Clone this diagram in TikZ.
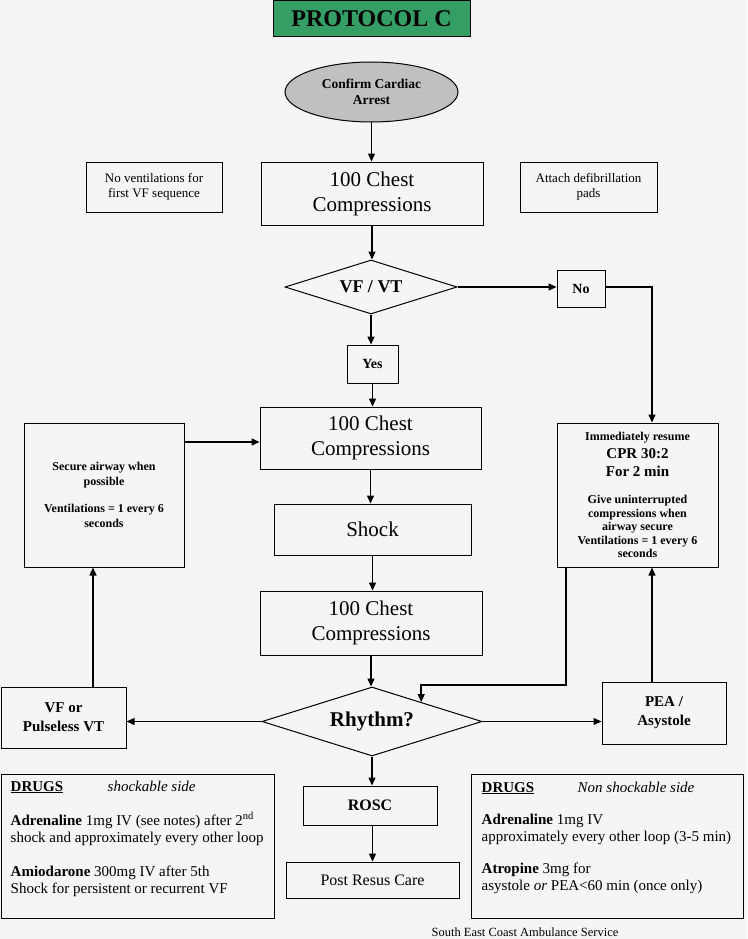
\documentclass[tikz,border=0pt]{standalone}
\usepackage{fontspec}
\setmainfont{Liberation Serif}
\usetikzlibrary{shapes.geometric,arrows.meta,calc}
\definecolor{paper}{RGB}{245,245,245}
\definecolor{titlegreen}{RGB}{52,158,100}
\definecolor{startgray}{RGB}{192,192,192}
\newcommand{\fsz}[2]{\fontsize{#1}{#2}\selectfont}

\begin{document}
\begin{tikzpicture}[x=1pt,y=-1pt,
    box/.style ={rectangle, draw, line width=1pt, inner sep=2pt, align=center},
    decision/.style ={diamond, draw, line width=1pt, inner sep=0pt, aspect=3.2},
    flow/.style ={line width=1.4pt, -{Triangle[length=8pt,width=7pt]}},
    bigtext/.style ={font=\fsz{21}{25}},
    smalltext/.style ={font=\fsz{13}{15}},
    drugtext/.style ={font=\fsz{15}{17}, align=left, inner sep=0pt, anchor=north west}]
   \fill[paper] (0,0) rectangle (747,939);
   % top of the chart
   \node[box, fill=titlegreen, minimum width=197, minimum height=36, font=\fsz{24}{28}\bfseries] (title) at (371.5,19) {PROTOCOL C};
   \node[ellipse, draw, fill=startgray, line width=1pt, minimum width=173, minimum height=60, align=center, font=\fsz{13.5}{16}\bfseries] (confirm) at (371.5,92) {Confirm Cardiac\\Arrest};
   \node[box, bigtext, minimum width=222, minimum height=63] (chest1) at (372,193.5) {100 Chest\\Compressions};
   \node[box, smalltext, minimum width=136, minimum height=50] (noventil) at (154,187) {No ventilations for\\first VF sequence};
   \node[box, smalltext, minimum width=137, minimum height=50] (pads) at (588.5,187) {Attach defibrillation\\pads};
   \node[decision, minimum width=172, minimum height=54, font=\fsz{18}{20}\bfseries] (vfvt) at (371,287) {VF / VT};
   \node[box, minimum width=48, minimum height=37, font=\fsz{14}{16}\bfseries] (no) at (581,289) {No};
   \node[box, minimum width=51, minimum height=38, font=\fsz{14}{16}\bfseries] (yes) at (372.5,364) {Yes};
   % shock loop
   \node[box, bigtext, minimum width=221, minimum height=62] (chest2) at (370.5,438) {100 Chest\\Compressions};
   \node[box, bigtext, minimum width=197, minimum height=51] (shock) at (372.5,529.5) {Shock};
   \node[box, bigtext, minimum width=222, minimum height=64] (chest3) at (371,623) {100 Chest\\Compressions};
   \node[box, minimum width=160, minimum height=144, font=\fsz{12}{15}\bfseries] (airway) at (104,495) {Secure airway when\\possible\\[12pt]Ventilations = 1 every 6\\seconds};
   \node[box, minimum width=161, minimum height=144, font=\fsz{12}{13.5}\bfseries] (resume) at (637.5,495) {Immediately resume\\[5pt]{\fsz{15}{17}CPR 30:2}\\[4pt]{\fsz{15}{17}For 2 min}\\[14pt]Give uninterrupted\\compressions when\\airway secure\\Ventilations = 1 every 6\\seconds};
   \node[decision, minimum width=220, minimum height=69, font=\fsz{21}{24}\bfseries] (rhythm) at (372,721.5) {Rhythm?};
   \node[box, minimum width=125, minimum height=61, font=\fsz{15}{19}\bfseries] (vfbox) at (63.5,717.5) {VF or\\Pulseless VT};
   \node[box, minimum width=124, minimum height=62, font=\fsz{15}{19}\bfseries] (pea) at (664,713) {PEA /\\Asystole};
   % bottom of the chart
   \node[box, minimum width=134, minimum height=39, font=\fsz{16}{18}\bfseries] (rosc) at (370,805.5) {ROSC};
   \node[box, minimum width=173, minimum height=36, font=\fsz{16}{18}] (post) at (372.5,880) {Post Resus Care};
   \node[box, minimum width=273, minimum height=144] (shockdrugs) at (137.5,846) {};
   \node[box, minimum width=272, minimum height=144] (nonshockdrugs) at (607,846) {};
   \node[drugtext] (shocklist) at ($(shockdrugs.north west)+(10,7)$) {\makebox[97pt][l]{\underline{\textbf{DRUGS}}}\textit{shockable side}\\[17pt]\textbf{Adrenaline} 1mg IV (see notes) after 2\textsuperscript{nd}\\shock and approximately every other loop\\[17pt]\textbf{Amiodarone} 300mg IV after 5th\\Shock for persistent or recurrent VF};
   \node[drugtext] (nonshocklist) at ($(nonshockdrugs.north west)+(11,8)$) {\makebox[96pt][l]{\underline{\textbf{DRUGS}}}\textit{Non shockable side}\\[15pt]\textbf{Adrenaline} 1mg IV\\approximately every other loop (3-5 min)\\[15pt]\textbf{Atropine} 3mg for\\asystole \textit{or} PEA<60 min (once only)};
   \node[font=\fsz{12.5}{14}, inner sep=0pt, anchor=base] (service) at (525,936) {South East Coast Ambulance Service};
   % lanes for the off-centre connectors
   \coordinate (leftlane) at (93,0);
   \coordinate (rightlane) at (652,0);
   \coordinate (airlane) at (0,442);
   \coordinate (backlane) at (566,685);
   % connectors
   \draw[flow] (confirm.south) -- (confirm.south |- chest1.north);
   \draw[flow] (chest1.south) -- (chest1.south |- vfvt.north);
   \draw[flow] (vfvt.east) -- (no.west |- vfvt.east);
   \draw[flow] (no.east |- vfvt.east) -| (resume.north -| rightlane);
   \draw[flow] (vfvt.south) -- (vfvt.south |- yes.north);
   \draw[flow] (yes.south) -- (yes.south |- chest2.north);
   \draw[flow] (chest2.south) -- (chest2.south |- shock.north);
   \draw[flow] (shock.south) -- (shock.south |- chest3.north);
   \draw[flow] (chest3.south) -- (chest3.south |- rhythm.north);
   \draw[flow] (airway.east |- airlane) -- (chest2.west |- airlane);
   \draw[flow] (vfbox.north -| leftlane) -- (airway.south -| leftlane);
   \draw[flow] (pea.north -| rightlane) -- (resume.south -| rightlane);
   \draw[flow] (resume.south -| backlane) -- (backlane) -| ($(rhythm.north)!0.445!(rhythm.east)$);
   \draw[flow] (rhythm.west) -- (vfbox.east |- rhythm.west);
   \draw[flow] (rhythm.east) -- (pea.west |- rhythm.east);
   \draw[flow] (rhythm.south) -- (rhythm.south |- rosc.north);
   \draw[flow] (rosc.south -| post.north) -- (post.north);
\end{tikzpicture}
\end{document}
